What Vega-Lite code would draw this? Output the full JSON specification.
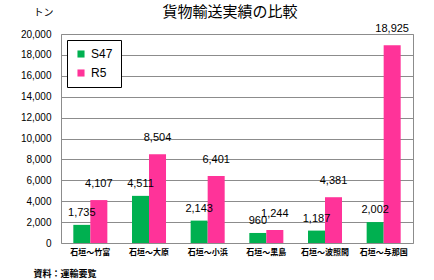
{
  "$schema": "https://vega.github.io/schema/vega-lite/v6.json",
  "width": 352,
  "height": 209,
  "autosize": "none",
  "padding": {"left": 61, "top": 34, "right": 21, "bottom": 37},
  "background": "white",
  "config": {
    "view": {"stroke": "#8c8c8c", "strokeWidth": 1},
    "font": "Liberation Sans, Noto Sans CJK JP"
  },
  "title": {
    "text": "貨物輸送実績の比較",
    "font": "Noto Sans CJK JP",
    "fontSize": 15,
    "fontWeight": "normal",
    "color": "#000000",
    "offset": 11,
    "dx": -7,
    "dy": 24
  },
  "data": {
    "values": [
      {"route": "石垣～竹富", "year": "S47", "value": 1735},
      {"route": "石垣～竹富", "year": "R5", "value": 4107},
      {"route": "石垣～大原", "year": "S47", "value": 4511},
      {"route": "石垣～大原", "year": "R5", "value": 8504},
      {"route": "石垣～小浜", "year": "S47", "value": 2143},
      {"route": "石垣～小浜", "year": "R5", "value": 6401},
      {"route": "石垣～黒島", "year": "S47", "value": 960},
      {"route": "石垣～黒島", "year": "R5", "value": 1244},
      {"route": "石垣～波照間", "year": "S47", "value": 1187},
      {"route": "石垣～波照間", "year": "R5", "value": 4381},
      {"route": "石垣～与那国", "year": "S47", "value": 2002},
      {"route": "石垣～与那国", "year": "R5", "value": 18925}
    ]
  },
  "encoding": {
    "x": {
      "field": "route",
      "type": "nominal",
      "sort": null,
      "scale": {"paddingInner": 0.42, "paddingOuter": 0.21},
      "axis": {
        "title": "資料：運輸要覧",
        "titleFont": "Noto Sans CJK JP",
        "titleFontSize": 9,
        "titleFontWeight": "bold",
        "titleAnchor": "start",
        "titleAlign": "left",
        "titleX": -28,
        "titleY": 30,
        "titleBaseline": "middle",
        "labelAngle": 0,
        "labelFont": "Noto Sans CJK JP",
        "labelFontSize": 8,
        "labelFontWeight": "bold",
        "labelColor": "#000000",
        "labelPadding": 5,
        "ticks": false,
        "domain": false
      }
    },
    "xOffset": {"field": "year", "type": "nominal", "sort": ["S47", "R5"]},
    "y": {
      "field": "value",
      "type": "quantitative",
      "scale": {"domain": [0, 20000], "nice": false},
      "axis": {
        "values": [0, 2000, 4000, 6000, 8000, 10000, 12000, 14000, 16000, 18000, 20000],
        "format": ",d",
        "title": "トン",
        "titleFont": "Noto Sans CJK JP",
        "titleFontSize": 10,
        "titleFontWeight": "normal",
        "titleAngle": 0,
        "titleAlign": "center",
        "titleX": -18,
        "titleY": -22,
        "titleBaseline": "middle",
        "labelFontSize": 10,
        "labelColor": "#000000",
        "labelPadding": 10,
        "ticks": false,
        "domain": false,
        "gridColor": "#8c8c8c",
        "gridOpacity": 1
      }
    }
  },
  "layer": [
    {
      "mark": {"type": "bar"},
      "encoding": {
        "color": {
          "field": "year",
          "type": "nominal",
          "sort": ["S47", "R5"],
          "scale": {"domain": ["S47", "R5"], "range": ["#00B050", "#FF3399"]},
          "legend": {
            "orient": "none",
            "legendX": 6,
            "legendY": 6,
            "title": null,
            "symbolType": "square",
            "symbolSize": 50,
            "symbolStrokeWidth": 0,
            "labelFontSize": 12,
            "labelColor": "#000000",
            "rowPadding": 7,
            "padding": 8,
            "strokeColor": "#000000",
            "fillColor": "#ffffff"
          }
        }
      }
    },
    {
      "transform": [{"filter": "datum.year === 'S47'"}],
      "mark": {"type": "text", "baseline": "middle", "dy": -12, "fontSize": 11, "color": "#000000"},
      "encoding": {
        "text": {"field": "value", "type": "quantitative", "format": ",d"}
      }
    },
    {
      "transform": [{"filter": "datum.year === 'R5'"}],
      "mark": {"type": "text", "baseline": "middle", "dy": -16, "fontSize": 11, "color": "#000000"},
      "encoding": {
        "text": {"field": "value", "type": "quantitative", "format": ",d"}
      }
    }
  ]
}
